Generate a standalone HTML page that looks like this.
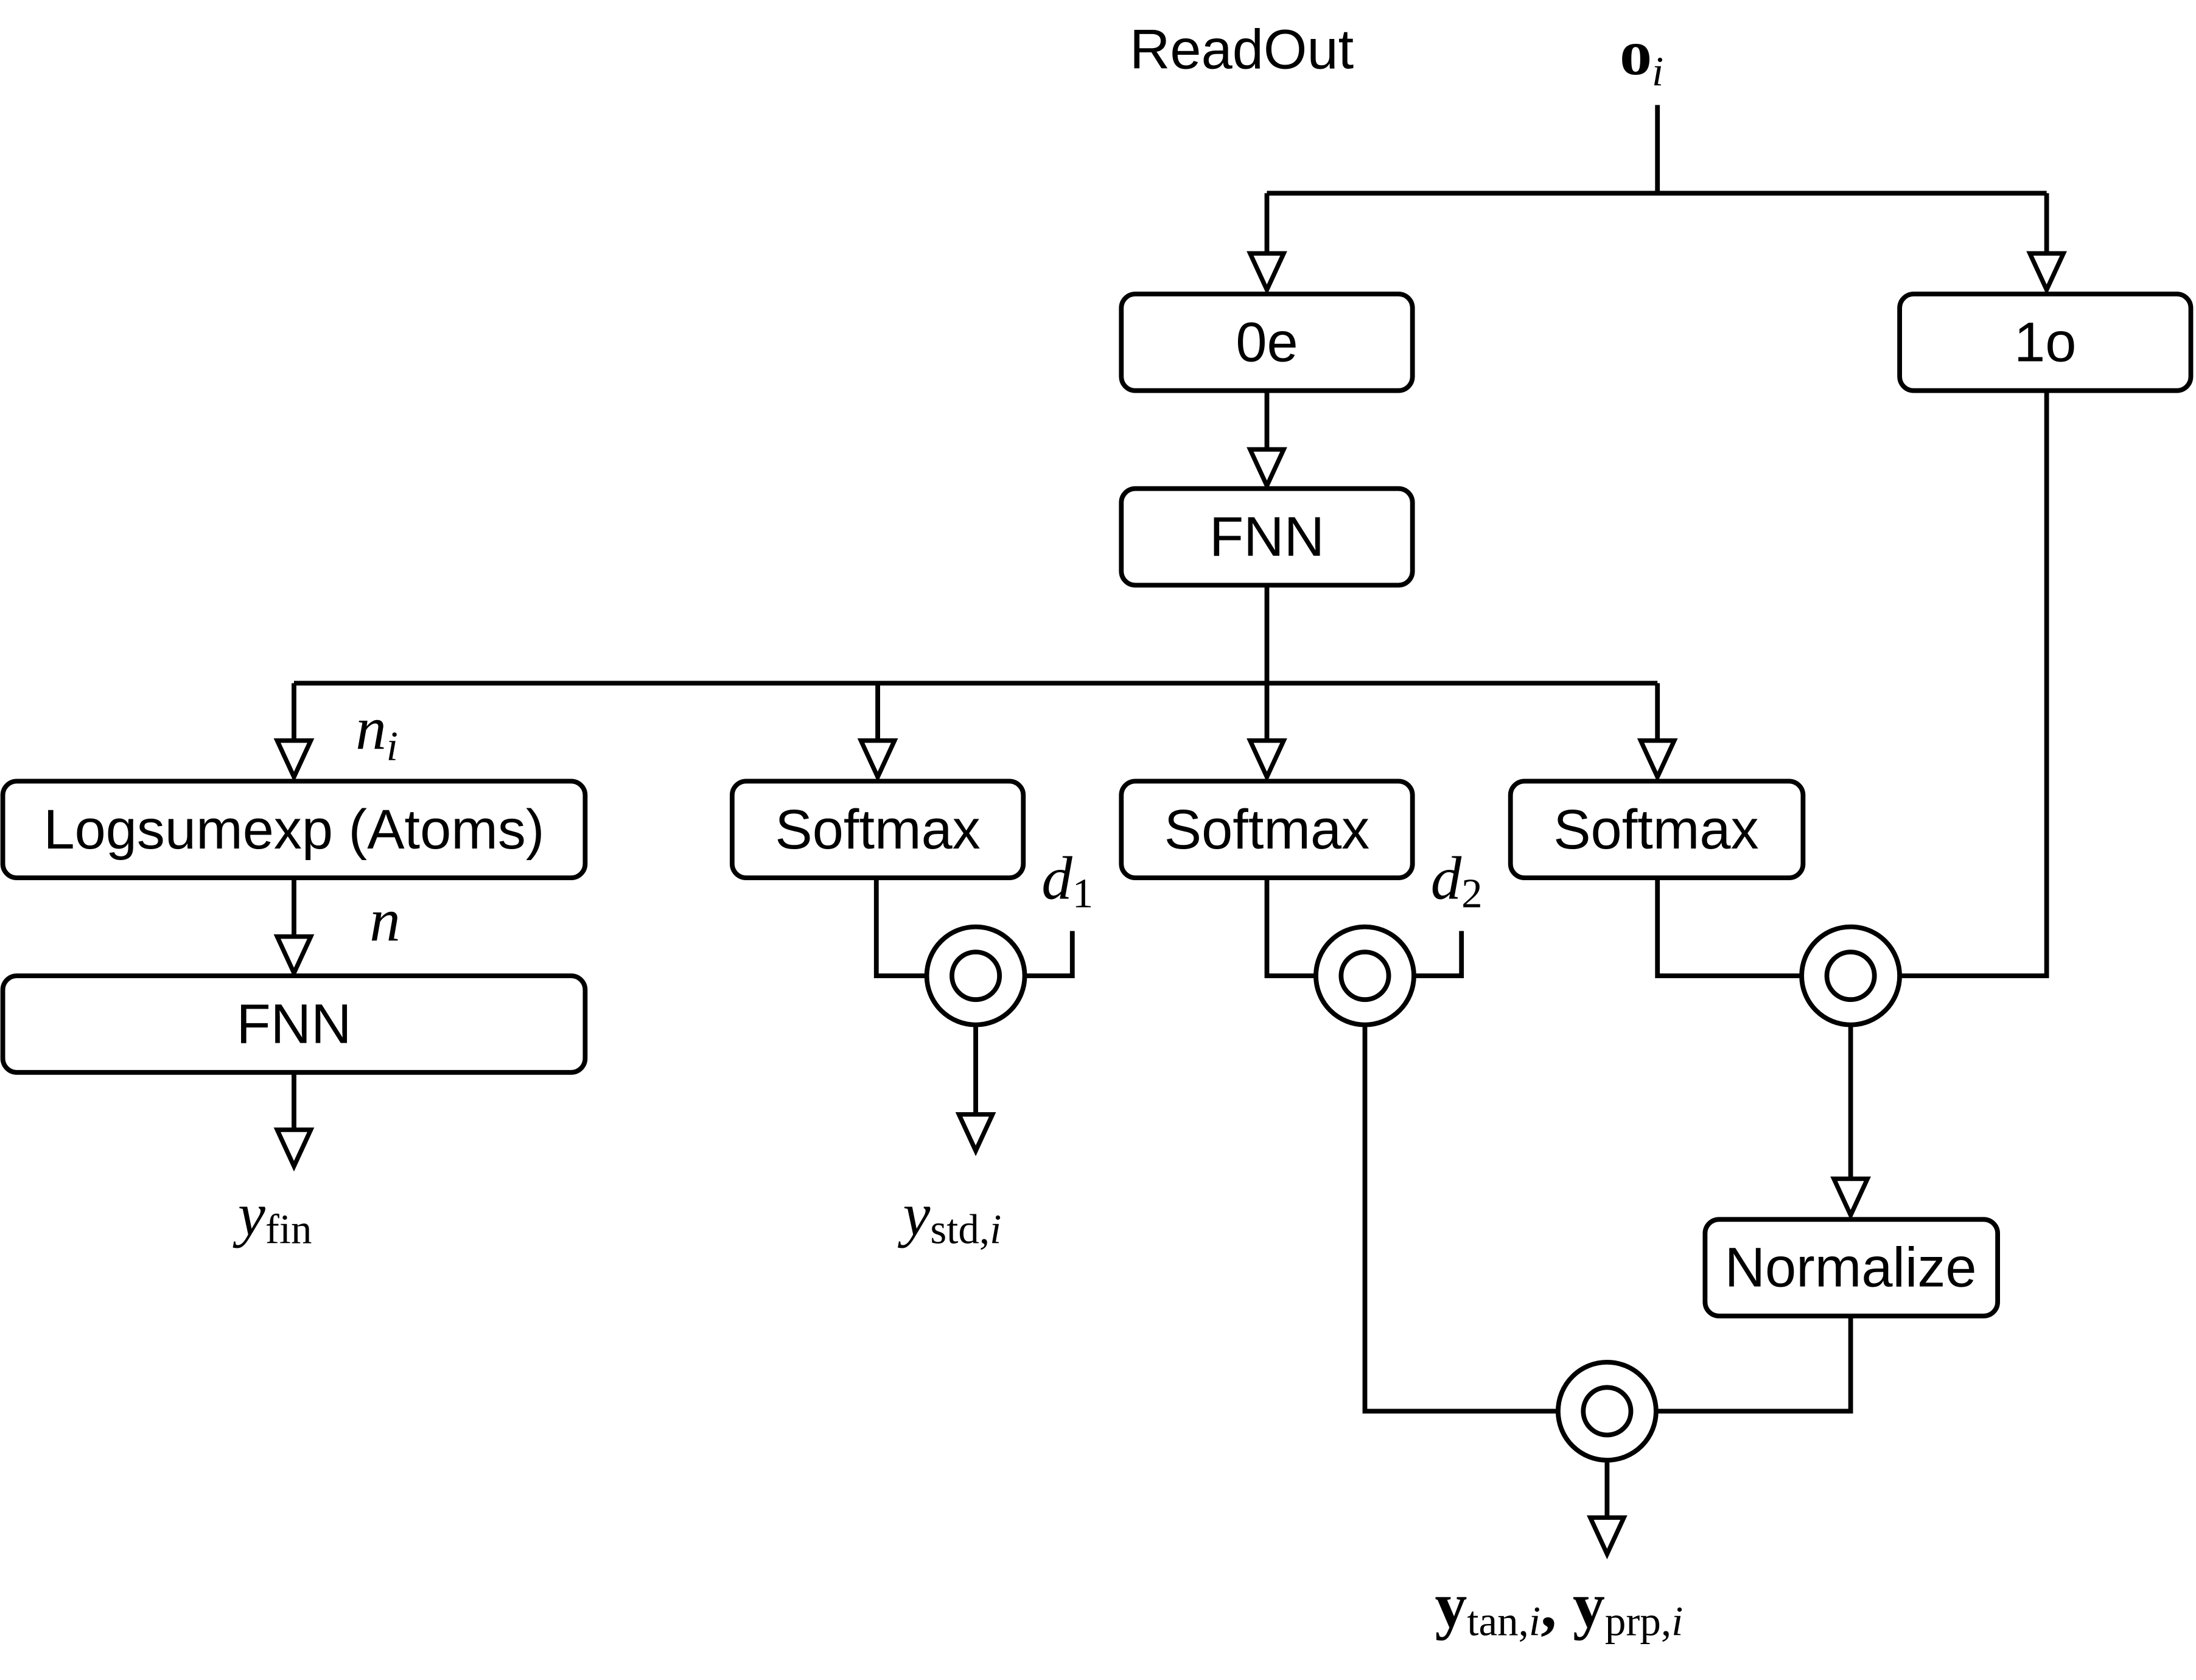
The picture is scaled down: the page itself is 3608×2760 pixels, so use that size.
<!DOCTYPE html>
<html><head><meta charset="utf-8"><style>
html,body{margin:0;padding:0;background:#fff;}
svg{display:block;}
.box{fill:#fff;stroke:#000;stroke-width:3.4;}
.ln{fill:none;stroke:#000;stroke-width:3.4;}
.ar{fill:#fff;stroke:#000;stroke-width:3.2;stroke-linejoin:miter;}
.t{font-family:"Liberation Sans",sans-serif;font-size:40px;text-anchor:middle;}
.m{font-family:"Liberation Serif",serif;font-style:italic;font-size:44px;}
.s{font-family:"Liberation Serif",serif;font-size:30px;font-style:normal;}
.si{font-family:"Liberation Serif",serif;font-size:30px;font-style:italic;}
</style></head><body>
<svg width="3608" height="2760" viewBox="0 0 1568.7 1200" xmlns="http://www.w3.org/2000/svg">
<defs>
<g id="a"><polygon class="ar" points="-12,-26 12,-26 0,0"/></g>
</defs>
<text x="887" y="49" class="t">ReadOut</text>
<text x="1157" y="53" font-family="Liberation Serif,serif" font-weight="bold" font-size="46">o<tspan class="si" font-weight="normal" dy="8">i</tspan></text>

<path class="ln" d="M1184,75V138M905,138H1462M905,138V182M1462,138V182"/>
<use href="#a" x="905" y="207"/><use href="#a" x="1462" y="207"/>
<rect class="box" x="801" y="210" width="208" height="69" rx="10"/>
<text x="905" y="258" class="t">0e</text>
<rect class="box" x="1357" y="210" width="208" height="69" rx="10"/>
<text x="1461" y="258" class="t">1o</text>
<path class="ln" d="M905,279V322"/><use href="#a" x="905" y="347"/>
<rect class="box" x="801" y="349" width="208" height="69" rx="10"/>
<text x="905" y="397" class="t">FNN</text>
<path class="ln" d="M905,418V488M210,488H1184M210,488V530M627,488V530M905,488V530M1184,488V530"/>
<use href="#a" x="210" y="555"/><use href="#a" x="627" y="555"/><use href="#a" x="905" y="555"/><use href="#a" x="1184" y="555"/>

<text x="254" y="535" class="m">n<tspan class="si" dy="8">i</tspan></text>
<rect class="box" x="2" y="558" width="416" height="69" rx="10"/>
<text x="210" y="606" class="t">Logsumexp (Atoms)</text>
<rect class="box" x="523" y="558" width="208" height="69" rx="10"/>
<text x="627" y="606" class="t">Softmax</text>
<rect class="box" x="801" y="558" width="208" height="69" rx="10"/>
<text x="905" y="606" class="t">Softmax</text>
<rect class="box" x="1079" y="558" width="209" height="69" rx="10"/>
<text x="1183" y="606" class="t">Softmax</text>

<path class="ln" d="M210,627V670"/><use href="#a" x="210" y="695"/>
<text x="264" y="672" class="m">n</text>
<rect class="box" x="2" y="697" width="416" height="69" rx="10"/>
<text x="210" y="745" class="t">FNN</text>
<path class="ln" d="M210,766V808"/><use href="#a" x="210" y="833"/>
<text x="170" y="882" class="m">y<tspan class="s" dy="6">fin</tspan></text>

<path class="ln" d="M626,627V697H662M732,697H766V665M697,732V797"/>
<circle class="ln" cx="697" cy="697" r="35"/><circle class="ln" cx="697" cy="697" r="17"/>
<use href="#a" x="697" y="822"/>
<text x="744" y="642" class="m">d<tspan class="s" dy="6">1</tspan></text>
<text x="645" y="882" class="m">y<tspan class="s" dy="6">std,</tspan><tspan class="si">i</tspan></text>

<path class="ln" d="M905,627V697H940M1010,697H1044V665M975,732V1008H1113"/>
<circle class="ln" cx="975" cy="697" r="35"/><circle class="ln" cx="975" cy="697" r="17"/>
<text x="1022" y="642" class="m">d<tspan class="s" dy="6">2</tspan></text>

<path class="ln" d="M1184,627V697H1287M1357,697H1462V279M1322,732V843"/>
<circle class="ln" cx="1322" cy="697" r="35"/><circle class="ln" cx="1322" cy="697" r="17"/>
<use href="#a" x="1322" y="868"/>
<rect class="box" x="1218" y="871" width="209" height="69" rx="10"/>
<text x="1322" y="919" class="t">Normalize</text>
<path class="ln" d="M1322,940V1008H1183"/>
<circle class="ln" cx="1148" cy="1008" r="35"/><circle class="ln" cx="1148" cy="1008" r="17"/>
<path class="ln" d="M1148,1043V1085"/><use href="#a" x="1148" y="1110"/>
<text x="1025" y="1162" font-family="Liberation Serif,serif" font-weight="bold" font-size="46">y<tspan class="s" font-weight="normal" dy="6">tan,</tspan><tspan class="si" font-weight="normal">i</tspan><tspan dy="-6">, y</tspan><tspan class="s" font-weight="normal" dy="6">prp,</tspan><tspan class="si" font-weight="normal">i</tspan></text>
</svg>
</body></html>
